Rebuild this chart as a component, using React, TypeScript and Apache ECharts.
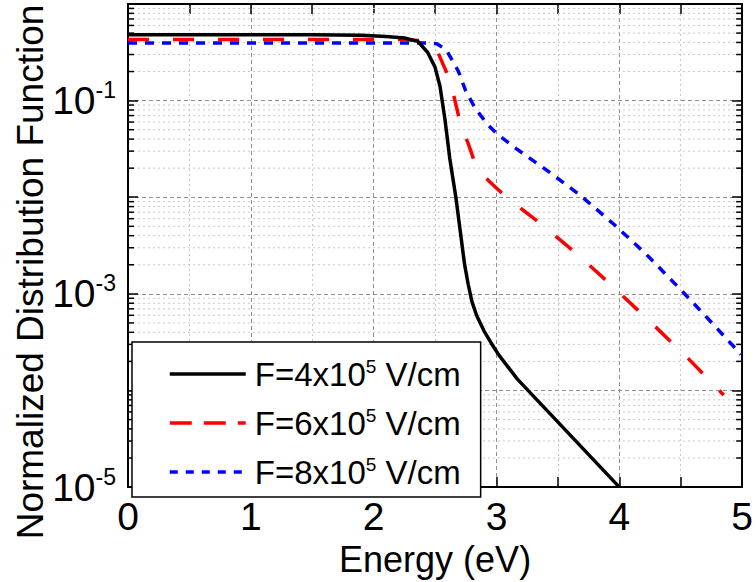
import React, { useEffect, useRef } from "react";
import * as echarts from "echarts";

const FONT = "'Liberation Sans', Arial, Helvetica, sans-serif";

const SERIES_NAMES = ["F=4x10^5 V/cm", "F=6x10^5 V/cm", "F=8x10^5 V/cm"];
const LEGEND_LABELS = ["F=4x10{s|5} V/cm", "F=6x10{s|5} V/cm", "F=8x10{s|5} V/cm"];

const ENERGY_F4 = [0, 1.5, 1.9, 2.1, 2.25, 2.36, 2.44, 2.5, 2.54, 2.58, 2.62, 2.67, 2.74, 2.77, 2.8, 2.84, 2.9, 2.96, 3.02, 3.17, 4.0];
const F4 = [0.481, 0.481, 0.475, 0.462, 0.445, 0.41, 0.315, 0.221, 0.141, 0.0647, 0.025, 0.00982, 0.00202, 0.00125, 0.00083, 0.00059, 0.00041, 0.000305, 0.000232, 0.000131, 0.00001];

const ENERGY_F6 = [0, 2.22, 2.38, 2.52, 2.59, 2.64, 2.71, 2.77, 2.82, 2.88, 2.94, 3.07, 3.37, 3.67, 3.96, 4.26, 4.56, 4.85];
const F6 = [0.428, 0.428, 0.418, 0.322, 0.201, 0.1315, 0.055, 0.0359, 0.0235, 0.0177, 0.01466, 0.01028, 0.00519, 0.0025, 0.001148, 0.000502, 0.000215, 0.0000897];

const ENERGY_F8 = [0, 2.45, 2.51, 2.59, 2.69, 2.75, 2.83, 2.93, 3.01, 3.16, 3.41, 3.68, 3.96, 4.22, 4.48, 4.73, 4.99];
const F8 = [0.395, 0.395, 0.389, 0.338, 0.201, 0.1253, 0.082, 0.0562, 0.0445, 0.0319, 0.019, 0.01054, 0.00519, 0.00256, 0.001175, 0.00054, 0.000236];

const X_MIN = 0;
const X_MAX = 5;
const Y_MIN = 1e-5;
const Y_MAX = 1;
const DECADES = [1e-5, 1e-4, 1e-3, 1e-2, 1e-1];
const MINOR_MULTIPLES = [2, 3, 4, 5, 6, 7, 8, 9];
const Y_LABEL_EXPONENTS = [-1, -3, -5];

const zip = (xs: number[], ys: number[]) => xs.map((x, i) => [x, ys[i]]);

export default function App() {
  const ref = useRef<HTMLDivElement>(null);

  useEffect(() => {
    document.body.style.margin = "0";
    if (!ref.current) return;
    const chart = echarts.init(ref.current, null, { renderer: "svg" });

    const minorValues: number[][] = [];
    DECADES.forEach((d) => MINOR_MULTIPLES.forEach((m) => minorValues.push([X_MIN, m * d])));

    const option: any = {
      animation: false,
      backgroundColor: "#ffffff",
      grid: { left: 128, right: 10, top: 4, bottom: 90, containLabel: false },
      xAxis: [
        {
          type: "value",
          min: X_MIN,
          max: X_MAX,
          interval: 1,
          name: "Energy (eV)",
          nameLocation: "middle",
          nameGap: 42,
          nameTextStyle: { fontFamily: FONT, fontSize: 36, color: "#000" },
          axisLine: { show: true, onZero: false, lineStyle: { color: "#000", width: 2 } },
          axisTick: { show: true, inside: true, length: 10, lineStyle: { color: "#000", width: 1.5 } },
          minorTick: { show: true, splitNumber: 2, length: 10, lineStyle: { color: "#000", width: 1.5 } },
          axisLabel: { fontFamily: FONT, fontSize: 39, color: "#000", margin: 10 },
          splitLine: { show: true, lineStyle: { color: "#8f8f8f", width: 1, type: [4, 3] } },
          minorSplitLine: { show: true, lineStyle: { color: "#c8c8c8", width: 1, type: [2, 3] } },
        },
        {
          type: "value",
          position: "top",
          min: X_MIN,
          max: X_MAX,
          interval: 1,
          axisLine: { show: true, onZero: false, lineStyle: { color: "#000", width: 2 } },
          axisTick: { show: true, inside: true, length: 10, lineStyle: { color: "#000", width: 1.5 } },
          minorTick: { show: true, splitNumber: 2, length: 10, lineStyle: { color: "#000", width: 1.5 } },
          axisLabel: { show: false },
          splitLine: { show: false },
        },
      ],
      yAxis: [
        {
          type: "log",
          logBase: 10,
          min: Y_MIN,
          max: Y_MAX,
          splitNumber: 5,
          axisLine: { show: true, onZero: false, lineStyle: { color: "#000", width: 2 } },
          axisTick: { show: true, inside: true, length: 10, lineStyle: { color: "#000", width: 1.5 } },
          axisLabel: {
            margin: 12,
            color: "#000",
            fontFamily: FONT,
            formatter: (v: number) => {
              const e = Math.round(Math.log10(v));
              return Y_LABEL_EXPONENTS.includes(e) ? `{b|10}{s|${e}}` : "";
            },
            rich: {
              b: { fontFamily: FONT, fontSize: 39, lineHeight: 44, color: "#000" },
              s: { fontFamily: FONT, fontSize: 23, lineHeight: 44, verticalAlign: "top", color: "#000" },
            },
          },
          splitLine: { show: true, lineStyle: { color: "#8f8f8f", width: 1, type: [4, 3] } },
        },
        {
          type: "log",
          logBase: 10,
          position: "right",
          min: Y_MIN,
          max: Y_MAX,
          splitNumber: 5,
          axisLine: { show: true, onZero: false, lineStyle: { color: "#000", width: 2 } },
          axisTick: { show: true, inside: true, length: 10, lineStyle: { color: "#000", width: 1.5 } },
          axisLabel: { show: false },
          splitLine: { show: false },
        },
      ],
      legend: {
        orient: "vertical",
        left: 132,
        top: 342,
        padding: [15, 20, 8, 36],
        itemWidth: 76,
        itemHeight: 32,
        itemGap: 15,
        backgroundColor: "#ffffff",
        borderColor: "#000",
        borderWidth: 1.5,
        itemStyle: { opacity: 0 },
        textStyle: {
          fontFamily: FONT,
          fontSize: 33,
          lineHeight: 34,
          color: "#000",
          padding: [0, 0, 0, 4],
          rich: {
            s: { fontFamily: FONT, fontSize: 19, lineHeight: 34, verticalAlign: "top", color: "#000" },
          },
        },
        formatter: (name: string) => LEGEND_LABELS[SERIES_NAMES.indexOf(name)],
        data: [
          { name: SERIES_NAMES[0], lineStyle: { width: 3.5 } },
          { name: SERIES_NAMES[1], lineStyle: { width: 3.5, type: [22, 12] } },
          { name: SERIES_NAMES[2], lineStyle: { width: 3.5, type: [8, 8] } },
        ],
      },
      graphic: [
        {
          type: "text",
          x: 30,
          y: 272,
          rotation: Math.PI / 2,
          style: {
            text: "Normalized Distribution Function",
            fontFamily: FONT,
            fontSize: 37,
            fill: "#000",
            textAlign: "center",
            textVerticalAlign: "middle",
          },
          z: 10,
        },
      ],
      series: [
        {
          type: "custom",
          silent: true,
          z: 1,
          xAxisIndex: 0,
          yAxisIndex: 0,
          data: minorValues,
          renderItem: (params: any, api: any) => {
            const v = api.value(1);
            const l = api.coord([X_MIN, v]);
            const r = api.coord([X_MAX, v]);
            const stroke = { stroke: "#000", lineWidth: 1.5 };
            return {
              type: "group",
              children: [
                {
                  type: "line",
                  shape: { x1: l[0], y1: l[1], x2: r[0], y2: r[1] },
                  style: { stroke: "#c8c8c8", lineWidth: 1, lineDash: [2, 3] },
                },
                { type: "line", shape: { x1: l[0], y1: l[1], x2: l[0] + 6, y2: l[1] }, style: stroke },
                { type: "line", shape: { x1: r[0] - 6, y1: r[1], x2: r[0], y2: r[1] }, style: stroke },
              ],
            };
          },
        },
        {
          name: SERIES_NAMES[0],
          type: "line",
          z: 5,
          symbol: "none",
          data: zip(ENERGY_F4, F4),
          lineStyle: { color: "#000000", width: 3.5 },
          itemStyle: { color: "#000000" },
        },
        {
          name: SERIES_NAMES[1],
          type: "line",
          z: 4,
          symbol: "none",
          data: zip(ENERGY_F6, F6),
          lineStyle: { color: "#ff0000", width: 3.5, type: [21, 24] },
          itemStyle: { color: "#ff0000" },
        },
        {
          name: SERIES_NAMES[2],
          type: "line",
          z: 3,
          symbol: "none",
          data: zip(ENERGY_F8, F8),
          lineStyle: { color: "#0000ff", width: 3.5, type: [9, 8] },
          itemStyle: { color: "#0000ff" },
        },
      ],
    };

    chart.setOption(option);
    return () => chart.dispose();
  }, []);

  return <div ref={ref} style={{ width: 756, height: 582 }} />;
}
